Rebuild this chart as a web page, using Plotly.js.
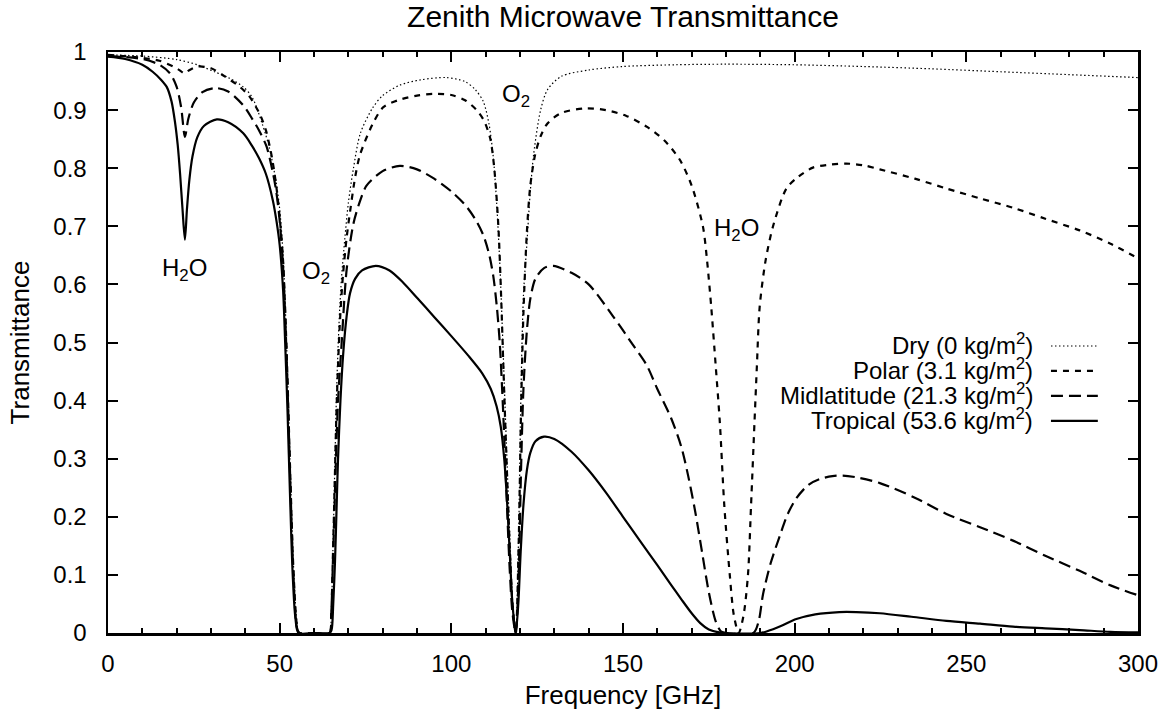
<!DOCTYPE html>
<html>
<head>
<meta charset="utf-8">
<script src="https://cdn.plot.ly/plotly-3.0.1.min.js"></script>
<style>
  html, body { margin: 0; padding: 0; background: #fff; }
  #chart { width: 1165px; height: 717px; }
</style>
</head>
<body>
<div id="chart"></div>
<script>
// ---- Data (frequency in GHz, zenith transmittance) ----
const seriesNames = ["Dry (0 kg/m<sup>2</sup>)", "Polar (3.1 kg/m<sup>2</sup>)", "Midlatitude (21.3 kg/m<sup>2</sup>)", "Tropical (53.6 kg/m<sup>2</sup>)"];

const freqDry = [0, 10, 20, 26, 31, 35, 39.4, 42, 45, 47, 49, 50, 51, 52, 53, 54, 55, 55.7, 60, 64.5, 65, 65.5, 66, 66.5, 67, 67.5, 68, 69, 70, 71.5, 73.5, 77, 80, 85, 91, 98.6, 104, 107, 109.3, 111, 112.2, 113.2, 114.2, 115, 116, 117, 117.8, 118.75, 119.6, 120.3, 121, 122, 123, 124, 126, 128, 132, 140, 150, 165, 180, 200, 220, 240, 260, 280, 300];
const transDry = [0.995, 0.993, 0.987, 0.978, 0.966, 0.956, 0.94, 0.922, 0.875, 0.835, 0.775, 0.73, 0.65, 0.5, 0.3, 0.12, 0.02, 0, 0, 0, 0.03, 0.14, 0.27, 0.4, 0.49, 0.56, 0.61, 0.68, 0.74, 0.8, 0.86, 0.903, 0.925, 0.943, 0.952, 0.956, 0.949, 0.935, 0.915, 0.875, 0.82, 0.74, 0.625, 0.5, 0.33, 0.17, 0.06, 0, 0.17, 0.42, 0.58, 0.67, 0.76, 0.825, 0.9, 0.935, 0.958, 0.969, 0.975, 0.978, 0.979, 0.978, 0.975, 0.971, 0.966, 0.961, 0.956];

const freqPolar = [0, 10, 15, 19, 21, 22.3, 23.5, 26.2, 30, 34, 38.4, 41, 44.3, 46, 47.2, 48, 49, 50, 51, 52, 53, 54, 55, 55.7, 60, 64.5, 65, 65.5, 66, 66.5, 67, 67.5, 68, 68.5, 69.5, 70.5, 72, 73.4, 77, 80.2, 85, 90, 94.7, 100, 104, 107.4, 109.5, 111.3, 112.5, 113.7, 114.5, 115.2, 116, 117, 117.8, 118.75, 119.6, 120.3, 121, 122, 123, 124.4, 126, 128, 132, 139, 145, 151, 157, 162, 166.5, 170, 173.3, 174.5, 175.7, 177, 178.2, 179.5, 181.1, 182.3, 183.7, 185.1, 186.4, 187.3, 188.3, 189, 189.8, 191.5, 193.7, 197.6, 201, 205.3, 210, 215, 220, 224.8, 235, 244.2, 254, 263.6, 273, 283, 292, 300];
const transPolar = [0.995, 0.99, 0.985, 0.975, 0.968, 0.963, 0.968, 0.975, 0.972, 0.958, 0.94, 0.925, 0.892, 0.865, 0.835, 0.81, 0.77, 0.715, 0.64, 0.49, 0.29, 0.11, 0.015, 0, 0, 0, 0.03, 0.13, 0.25, 0.37, 0.46, 0.53, 0.58, 0.62, 0.68, 0.725, 0.785, 0.823, 0.875, 0.905, 0.918, 0.925, 0.928, 0.926, 0.917, 0.9, 0.882, 0.852, 0.8, 0.7, 0.58, 0.45, 0.31, 0.15, 0.05, 0, 0.15, 0.38, 0.55, 0.69, 0.77, 0.823, 0.855, 0.877, 0.895, 0.903, 0.9, 0.89, 0.871, 0.848, 0.815, 0.77, 0.699, 0.64, 0.561, 0.46, 0.363, 0.22, 0.1, 0.03, 0, 0.03, 0.1, 0.22, 0.363, 0.46, 0.561, 0.64, 0.7, 0.765, 0.785, 0.801, 0.806, 0.808, 0.805, 0.798, 0.782, 0.765, 0.748, 0.732, 0.713, 0.693, 0.67, 0.645];

const freqMid = [0, 10, 15, 18.1, 20, 21.3, 22.4, 23.4, 25, 27.5, 31.2, 35, 39.4, 42, 44, 46.2, 48.1, 49, 50, 51, 52, 53, 54, 55, 55.7, 60, 64.5, 65, 65.5, 66, 66.5, 67, 67.5, 68, 69.5, 71.5, 73.5, 75.3, 80, 85, 90, 95, 100, 104, 107, 109.3, 111, 112.2, 113.2, 114.1, 115.1, 116, 117, 117.8, 118.75, 119.6, 120.3, 121, 122, 123, 124.5, 127, 129.7, 135, 140, 147, 153, 156.9, 160, 164, 167, 169, 171, 173, 175, 177, 178.5, 180, 188, 189.5, 190.8, 193, 195.6, 198, 200.5, 204, 207.3, 211, 214, 218, 224.8, 235, 244.2, 254, 263.6, 273, 283, 292, 300];
const transMid = [0.993, 0.988, 0.978, 0.963, 0.94, 0.905, 0.854, 0.885, 0.913, 0.931, 0.938, 0.932, 0.908, 0.885, 0.865, 0.837, 0.79, 0.76, 0.71, 0.63, 0.48, 0.28, 0.1, 0.01, 0, 0, 0, 0.03, 0.12, 0.22, 0.32, 0.4, 0.45, 0.494, 0.625, 0.705, 0.745, 0.77, 0.795, 0.804, 0.798, 0.782, 0.76, 0.737, 0.712, 0.685, 0.652, 0.615, 0.565, 0.5, 0.38, 0.25, 0.11, 0.035, 0, 0.1, 0.28, 0.42, 0.52, 0.575, 0.61, 0.628, 0.632, 0.62, 0.6, 0.546, 0.495, 0.461, 0.42, 0.37, 0.32, 0.27, 0.21, 0.14, 0.07, 0.02, 0.003, 0, 0, 0.02, 0.067, 0.12, 0.166, 0.205, 0.232, 0.255, 0.265, 0.27, 0.271, 0.268, 0.258, 0.233, 0.205, 0.182, 0.159, 0.133, 0.107, 0.082, 0.065];

const freqTrop = [0, 5, 10, 13, 15.5, 17.1, 18.5, 19.5, 20.3, 21, 21.7, 22.4, 23, 23.7, 24.6, 26, 28, 31.7, 35, 39.4, 42, 44, 46, 48, 49.1, 50, 51, 51.6, 52.3, 53, 53.8, 54.6, 55.5, 60, 64.5, 65.1, 65.6, 66.1, 66.6, 67, 67.7, 68.5, 69.5, 70.5, 72, 74, 78, 82, 86, 90, 95, 100, 105, 109, 111.5, 113.2, 114.4, 115.4, 116.2, 117, 117.8, 118.75, 119.5, 120.2, 121, 122, 123, 124.5, 127, 130, 135, 140, 145, 150, 155, 160, 164, 167, 170, 172.5, 175, 178, 180, 190, 192, 196, 200.5, 206, 213, 218, 224.8, 234, 244.2, 254, 263.6, 273, 283, 292, 300];
const transTrop = [0.992, 0.988, 0.978, 0.966, 0.952, 0.94, 0.915, 0.88, 0.84, 0.79, 0.73, 0.677, 0.73, 0.78, 0.82, 0.853, 0.873, 0.884, 0.879, 0.86, 0.838, 0.817, 0.79, 0.745, 0.708, 0.668, 0.59, 0.5, 0.38, 0.24, 0.1, 0.025, 0, 0, 0, 0.005, 0.05, 0.12, 0.22, 0.3, 0.4, 0.48, 0.545, 0.585, 0.61, 0.624, 0.632, 0.624, 0.603, 0.577, 0.544, 0.511, 0.477, 0.447, 0.42, 0.39, 0.355, 0.3, 0.23, 0.14, 0.05, 0, 0.05, 0.14, 0.22, 0.28, 0.31, 0.33, 0.338, 0.334, 0.312, 0.28, 0.242, 0.2, 0.158, 0.117, 0.083, 0.058, 0.034, 0.017, 0.006, 0.001, 0, 0, 0.003, 0.012, 0.024, 0.032, 0.036, 0.036, 0.034, 0.028, 0.021, 0.016, 0.011, 0.008, 0.005, 0.002, 0.001];

// line annotations: text, frequency, transmittance
const labelTexts = ["H<sub>2</sub>O", "O<sub>2</sub>", "O<sub>2</sub>", "H<sub>2</sub>O"];
const labelFreq = [22.4, 60.6, 118.8, 183.2];
const labelTrans = [0.625, 0.62, 0.925, 0.695];

// ---- Styles ----
const FONT = '"Liberation Sans", Arial, Helvetica, sans-serif';
const styles = [
  {width: 1.2, dash: '1.5px,2.5px'},
  {width: 2.2, dash: '6px,6px'},
  {width: 2.2, dash: '12px,6px'},
  {width: 2.2, dash: 'solid'}
];
const xs = [freqDry, freqPolar, freqMid, freqTrop];
const ys = [transDry, transPolar, transMid, transTrop];

const traces = xs.map((x, i) => ({
  type: 'scatter', mode: 'lines', x: x, y: ys[i], name: seriesNames[i],
  line: {color: '#000', width: styles[i].width, dash: styles[i].dash, shape: 'spline', smoothing: 0.8},
  hoverinfo: 'skip'
}));

// custom gnuplot-like key (text right, sample line at right)
const keyRowsY = [0.498, 0.455, 0.412, 0.369];
const keyTextX = 0.9, keyLineX0 = 0.9155, keyLineX1 = 0.961;

const annotations = labelTexts.map((t, i) => ({
  text: t, x: labelFreq[i], y: labelTrans[i], xref: 'x', yref: 'y',
  showarrow: false, font: {family: FONT, size: 24, color: '#000'}, xanchor: 'center', yanchor: 'middle'
})).concat(seriesNames.map((n, i) => ({
  text: n, x: keyTextX, y: keyRowsY[i], xref: 'paper', yref: 'paper',
  showarrow: false, font: {family: FONT, size: 24, color: '#000'}, xanchor: 'right', yanchor: 'middle'
})));

const shapes = seriesNames.map((n, i) => ({
  type: 'line', xref: 'paper', yref: 'paper', x0: keyLineX0, x1: keyLineX1, y0: keyRowsY[i] - 0.004, y1: keyRowsY[i] - 0.004,
  line: {color: '#000', width: styles[i].width, dash: styles[i].dash}
}));

const axisCommon = {
  ticks: 'inside', ticklen: 10, tickwidth: 2, tickcolor: '#000',
  showline: true, linewidth: 2.5, linecolor: '#000', mirror: 'allticks',
  showgrid: false, zeroline: false, tickfont: {family: FONT, size: 24, color: '#000'}
};

const layout = {
  width: 1165, height: 717,
  margin: {l: 108, r: 27, t: 52, b: 84},
  paper_bgcolor: '#fff', plot_bgcolor: '#fff',
  font: {family: FONT, color: '#000', size: 24},
  showlegend: false,
  title: {text: 'Zenith Microwave Transmittance', font: {family: FONT, size: 30, color: '#000'},
          x: 0.5, xref: 'paper', xanchor: 'center', y: 0.977, yref: 'container', yanchor: 'middle'},
  xaxis: Object.assign({}, axisCommon, {
    range: [0, 300], tick0: 0, dtick: 50, ticklabelstandoff: 8,
    minor: {tick0: 0, dtick: 10, ticks: 'inside', ticklen: 5, tickwidth: 2, tickcolor: '#000', showgrid: false},
    title: {text: 'Frequency [GHz]', font: {family: FONT, size: 26, color: '#000'}, standoff: 10}
  }),
  yaxis: Object.assign({}, axisCommon, {
    range: [0, 1], tick0: 0, dtick: 0.1, ticklabelstandoff: 14,
    title: {text: 'Transmittance', font: {family: FONT, size: 26, color: '#000'}, standoff: 16}
  }),
  annotations: annotations,
  shapes: shapes
};

Plotly.newPlot('chart', traces, layout, {staticPlot: true, displayModeBar: false});
</script>
</body>
</html>
